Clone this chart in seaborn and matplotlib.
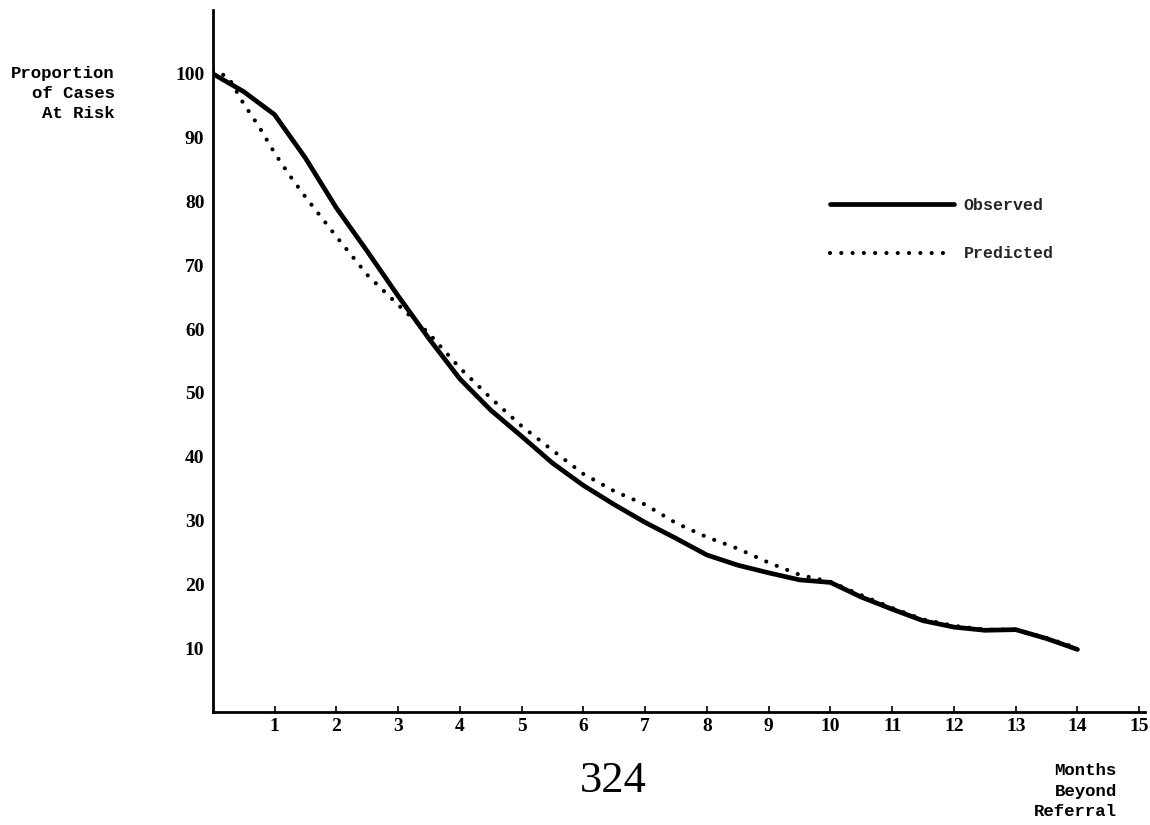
import numpy as np
import pandas as pd
import matplotlib
matplotlib.use("Agg")
import matplotlib.pyplot as plt
import seaborn as sns

# ---- data ----
obs_months = [0, 0.5, 1, 1.5, 2, 2.5, 3, 3.5, 4, 4.5, 5, 5.5, 6, 6.5, 7, 7.5,
              8, 8.5, 9, 9.5, 10, 10.5, 11, 11.5, 12, 12.5, 13, 13.5, 14]
obs_values = [100, 97.2, 93.6, 86.8, 79.0, 72.2, 65.2, 58.5, 52.2, 47.3, 43.2,
              39.0, 35.5, 32.5, 29.7, 27.2, 24.6, 23.0, 21.8, 20.7, 20.3, 18.0,
              16.1, 14.3, 13.3, 12.8, 12.9, 11.5, 9.8]

pred_months = [0, 0.25, 0.5, 0.75, 1, 1.25, 1.5, 2, 2.5, 3, 3.5, 4, 4.5, 5, 5.5,
               6, 6.5, 7, 7.5, 8, 8.5, 9, 9.5, 10, 10.5, 11, 11.5, 12, 12.5,
               13, 13.5, 14]
pred_values = [100.5, 99.5, 95.3, 91.7, 87.6, 84.0, 80.7, 74.5, 68.5, 63.8,
               59.3, 53.9, 49.2, 44.8, 41.0, 37.3, 34.6, 32.5, 29.6, 27.4, 25.6,
               23.4, 21.5, 20.4, 18.3, 16.3, 14.5, 13.5, 12.9, 12.9, 11.6, 10.0]

x_ticks = list(range(1, 16))
y_ticks = [10, 20, 30, 40, 50, 60, 70, 80, 90, 100]

sns.set_style("white")
plt.rcParams['font.family'] = ['DejaVu Sans']

fig = plt.figure(figsize=(11.5, 8.25), dpi=100)
ax = fig.add_axes([0.185, 0.137, 0.811, 0.851])

obs_df = pd.DataFrame({"Months": obs_months, "Proportion": obs_values})
pred_df = pd.DataFrame({"Months": pred_months, "Proportion": pred_values})

sns.lineplot(data=obs_df, x="Months", y="Proportion", ax=ax, color="black",
             linewidth=3.4, label="Observed", solid_capstyle="round",
             solid_joinstyle="round")
sns.lineplot(data=pred_df, x="Months", y="Proportion", ax=ax, color="black",
             linewidth=3.0, linestyle=(0, (0.01, 2.7)), dash_capstyle="round",
             label="Predicted")

ax.set_xlim(0, 15.1)
ax.set_ylim(0, 110)
ax.set_xticks(x_ticks)
ax.set_yticks(y_ticks)
ax.set_xlabel("")
ax.set_ylabel("")

for s in ["top", "right"]:
    ax.spines[s].set_visible(False)
for s in ["left", "bottom"]:
    ax.spines[s].set_color("black")
    ax.spines[s].set_linewidth(2.0)

tick_font = dict(family="Liberation Serif", weight="bold", size=14)
ax.set_xticklabels([str(t) for t in x_ticks], fontdict=tick_font)
ax.set_yticklabels([str(t) for t in y_ticks], fontdict=tick_font)
ax.tick_params(axis="x", direction="in", length=4, width=1.2, pad=4,
               colors="black", bottom=True)
ax.tick_params(axis="y", length=0, pad=6, colors="black", left=True)

leg = ax.legend(loc="upper left", bbox_to_anchor=(0.709, 0.778),
                bbox_transform=fig.transFigure, frameon=False,
                handlelength=7.4, labelspacing=2.0, handletextpad=0.6,
                prop=dict(family="Liberation Mono", weight="bold", size=12))

mono = dict(family="Liberation Mono", weight="bold", size=12.5, color="black")
fig.text(0.100, 0.920, "Proportion\nof Cases\nAt Risk", ha="right", va="top",
         multialignment="right", linespacing=1.4, **mono)
fig.text(0.971, 0.041, "Months\nBeyond\nReferral", ha="right", va="center",
         multialignment="right", linespacing=1.45, **mono)

fig.text(0.533, 0.053, "324", ha="center", va="center",
         family="Liberation Serif", size=32, color="black")

fig.savefig("out.png", dpi=100, facecolor="white")
